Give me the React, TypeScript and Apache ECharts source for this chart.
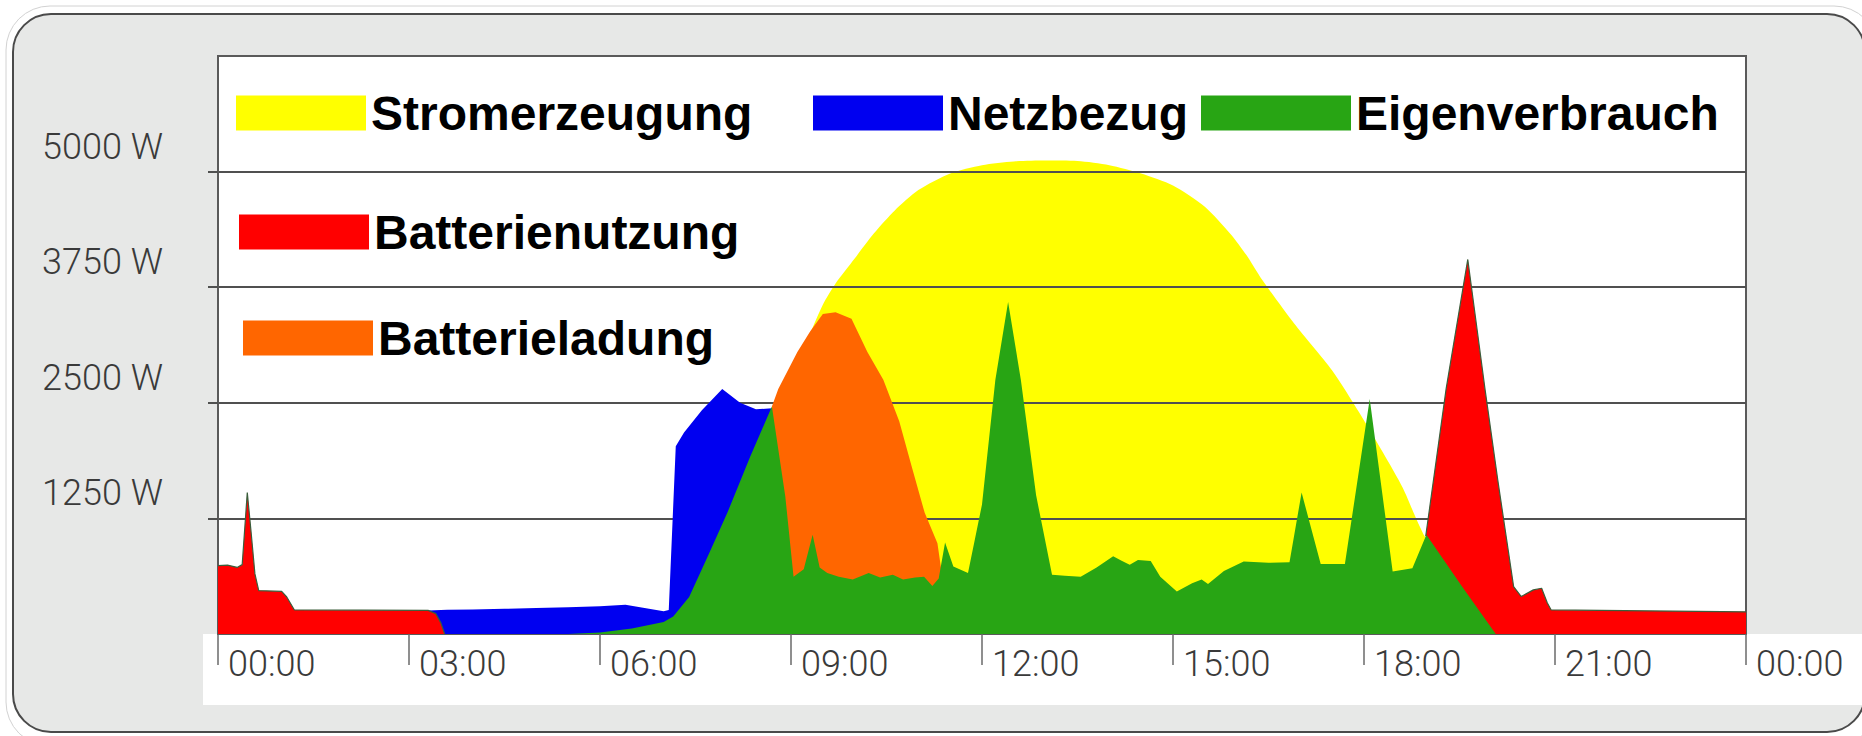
import React, { useEffect, useRef } from "react";
import * as echarts from "echarts";

// [hour, watts]
const stromerzeugung: [number, number][] = [
  [6.8, 0], [7.2, 300], [7.6, 800], [8.0, 1300], [8.5, 2000], [9.0, 2800], [9.3, 3250],
  [9.5, 3560], [9.7, 3790], [10.0, 4060], [10.3, 4330], [10.63, 4580], [11.0, 4800],
  [11.5, 4980], [12.0, 5070], [12.5, 5110], [13.0, 5120], [13.5, 5115], [14.0, 5070],
  [14.5, 4980], [15.0, 4850], [15.5, 4620], [15.91, 4320], [16.15, 4100],
  [16.4, 3830], [16.9, 3360], [17.5, 2850], [17.92, 2400], [18.3, 1960], [18.61, 1580],
  [18.8, 1280], [18.95, 1060], [19.4, 550], [19.9, 0],
];

const netzbezug: [number, number][] = [
  [3.3, 255], [3.6, 262], [4.0, 265], [4.5, 272], [5.0, 280], [5.5, 290], [6.0, 300],
  [6.4, 315], [6.7, 280], [7.0, 245], [7.08, 260], [7.19, 2030], [7.32, 2180],
  [7.6, 2420], [7.92, 2650], [8.2, 2500], [8.45, 2430], [8.7, 2440],
];

const batterienutzung: [number, number | string][] = [
  [0, 740], [0.15, 745], [0.3, 720], [0.38, 750], [0.46, 1530], [0.52, 1100], [0.58, 650],
  [0.64, 470], [1.0, 460], [1.08, 400], [1.2, 260], [3.3, 255], [3.42, 220], [3.5, 120],
  [3.56, 0], [12, "-"], [18.97, 1060], [19.29, 2650], [19.63, 4050], [19.9, 2650],
  [20.1, 1670], [20.35, 513], [20.47, 405], [20.66, 477], [20.79, 495], [20.88, 336],
  [20.94, 260], [24, 240],
];

const batterieladung: [number, number][] = [
  [8.7, 2460], [8.8, 2650], [9.1, 3050], [9.3, 3270], [9.5, 3460], [9.7, 3480],
  [9.95, 3410], [10.2, 3050], [10.45, 2750], [10.7, 2300], [10.9, 1800], [11.1, 1310],
  [11.3, 980], [11.38, 600],
];

const eigenverbrauch: [number, number][] = [
  [5.5, 0], [6.0, 15], [6.5, 60], [7.0, 130], [7.15, 190], [7.4, 400], [7.72, 880],
  [8.0, 1310], [8.36, 1920], [8.6, 2300], [8.7, 2460], [8.91, 1490], [9.04, 620],
  [9.2, 700], [9.34, 1074], [9.45, 720], [9.57, 660], [9.75, 620], [9.97, 590],
  [10.22, 660], [10.4, 610], [10.6, 640], [10.76, 590], [10.95, 610], [11.09, 620],
  [11.22, 520], [11.32, 600], [11.42, 990], [11.55, 730], [11.78, 660], [12.0, 1400],
  [12.21, 2750], [12.41, 3590], [12.61, 2750], [12.85, 1500], [13.1, 640], [13.3, 630],
  [13.55, 620], [13.8, 720], [14.06, 840], [14.2, 790], [14.32, 750], [14.45, 800],
  [14.65, 790], [14.8, 620], [15.06, 460], [15.3, 550], [15.45, 590], [15.55, 540],
  [15.8, 680], [16.11, 785], [16.5, 770], [16.83, 775], [17.02, 1530], [17.32, 756],
  [17.7, 756], [18.09, 2540], [18.45, 676], [18.76, 712], [18.98, 1074], [19.54, 513],
  [20.07, 0],
];

const seriesNames = ["Stromerzeugung", "Netzbezug", "Batterienutzung", "Batterieladung", "Eigenverbrauch"];
const seriesColors = ["#ffff00", "#0000f0", "#ff0000", "#ff6600", "#28a514"];

const yTicks = { min: 0, max: 6250, interval: 1250 };
const yLabelValues = [1250, 2500, 3750, 5000];
const xTicks = { min: 0, max: 24, interval: 3 };

export default function App() {
  const ref = useRef<HTMLDivElement>(null);
  useEffect(() => {
    if (!ref.current) return;
    const chart = echarts.init(ref.current, null, { renderer: "svg" });
    const dataSets = [stromerzeugung, netzbezug, batterienutzung, batterieladung, eigenverbrauch];
    const labelFont = { fontFamily: "Roboto, sans-serif", fontWeight: 300 as any, fontSize: 36, color: "#3a3a3a" };
    const legendText = { fontFamily: "'Liberation Sans', Arial, sans-serif", fontWeight: "bold" as any, fontSize: 48, color: "#000" };
    const legendBase = {
      icon: "rect", itemWidth: 130, itemHeight: 35, padding: 0, selectedMode: false,
      itemStyle: { borderWidth: 0 }, textStyle: legendText,
    };
    chart.setOption({
      animation: false,
      backgroundColor: "#ffffff",
      graphic: [
        { type: "rect", z: -20, shape: { x: 6, y: 6, width: 1872, height: 740, r: 44 }, style: { fill: "none", stroke: "#d2d2d2", lineWidth: 1 } },
        { type: "rect", z: -10, shape: { x: 13, y: 14, width: 1852, height: 718, r: 38 }, style: { fill: "#e7e8e7", stroke: "#4a4a4a", lineWidth: 2 } },
        { type: "rect", z: -5, shape: { x: 203, y: 634, width: 1700, height: 71 }, style: { fill: "#ffffff" } },
      ],
      grid: {
        left: 218, right: 116, top: 56, bottom: 102, show: true,
        backgroundColor: "#ffffff", borderColor: "#5a5a5a", borderWidth: 2,
      },
      legend: [
        { ...legendBase, data: [seriesNames[0]], left: 236, top: 89 },
        { ...legendBase, data: [seriesNames[1]], left: 813, top: 89 },
        { ...legendBase, data: [seriesNames[4]], left: 1201, top: 89, itemWidth: 150 },
        { ...legendBase, data: [seriesNames[2]], left: 239, top: 208 },
        { ...legendBase, data: [seriesNames[3]], left: 243, top: 314 },
      ],
      xAxis: {
        type: "value", ...xTicks,
        axisLine: { show: false },
        axisTick: { show: true, length: 31, lineStyle: { color: "#6a6a6a", width: 1.5 } },
        splitLine: { show: false },
        axisLabel: {
          ...labelFont, align: "left", margin: 12, padding: [0, 0, 0, 10],
          formatter: (v: number) => `${String(v % 24).padStart(2, "0")}:00`,
        },
      },
      yAxis: {
        type: "value", ...yTicks, z: 3,
        axisLine: { show: true, lineStyle: { color: "#5a5a5a", width: 2 } },
        axisTick: { show: true, length: 10, customValues: yLabelValues, lineStyle: { color: "#505050", width: 2 } },
        splitLine: { show: true, lineStyle: { color: "#505050", width: 2 } },
        axisLabel: {
          ...labelFont, margin: 55, verticalAlign: "bottom", lineHeight: 50,
          customValues: yLabelValues,
          formatter: (v: number) => `${v} W`,
        },
      },
      series: seriesNames.map((name, i) => ({
        name,
        type: "line",
        data: dataSets[i],
        color: seriesColors[i],
        z: i === 0 ? 2 : 4,
        showSymbol: false,
        symbol: "none",
        silent: true,
        smooth: i === 0 ? 0.25 : false,
        lineStyle: i === 2 ? { width: 1.2, color: "#3b5e3b" } : { width: 0 },
        areaStyle: { color: seriesColors[i], opacity: 1 },
      })),
    });
    return () => chart.dispose();
  }, []);
  return <div ref={ref} style={{ position: "fixed", left: 0, top: 0, width: 1862, height: 736 }} />;
}
